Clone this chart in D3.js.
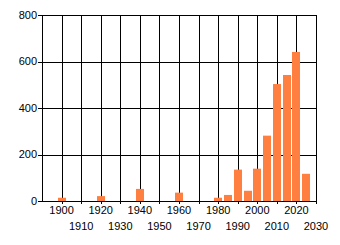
<!DOCTYPE html>
<html>
<head>
<meta charset="utf-8">
<script src="https://cdn.jsdelivr.net/npm/d3@7"></script>
<style>
  body { margin: 0; background: #fff; }
  text { font-family: "Liberation Sans", Arial, sans-serif; font-size: 11px; fill: #000; }
</style>
</head>
<body>
<div id="chart"></div>
<script>
// bar data (5-year bins)
const years = [1900, 1920, 1940, 1960, 1980, 1985, 1990, 1995, 2000, 2005, 2010, 2015, 2020, 2025];
const counts = [14, 21, 52, 36, 14, 26, 135, 44, 139, 281, 503, 542, 641, 117];
const xTicks = [1900, 1910, 1920, 1930, 1940, 1950, 1960, 1970, 1980, 1990, 2000, 2010, 2020, 2030];
const yTicks = [0, 200, 400, 600, 800];

const WIDTH = 340, HEIGHT = 245;
const plotLeft = 42, plotRight = 316, plotTop = 15, plotBottom = 201;

const svg = d3.select('#chart').append('svg')
  .attr('width', WIDTH)
  .attr('height', HEIGHT);

const x = d3.scaleLinear().domain([1890, 2030]).range([plotLeft, plotRight]);
const y = d3.scaleLinear().domain([0, 800]).range([plotBottom, plotTop]);

// grid lines
svg.append('g').selectAll('line')
  .data(xTicks)
  .enter().append('line')
  .attr('x1', d => Math.round(x(d)) + 0.5)
  .attr('x2', d => Math.round(x(d)) + 0.5)
  .attr('y1', plotTop)
  .attr('y2', plotBottom + 3)
  .attr('stroke', '#000');

svg.append('g').selectAll('line')
  .data(yTicks)
  .enter().append('line')
  .attr('x1', plotLeft - 4)
  .attr('x2', plotRight)
  .attr('y1', d => Math.round(y(d)) + 0.5)
  .attr('y2', d => Math.round(y(d)) + 0.5)
  .attr('stroke', '#000');

// left axis line
svg.append('line')
  .attr('x1', plotLeft + 0.5).attr('x2', plotLeft + 0.5)
  .attr('y1', plotTop).attr('y2', plotBottom + 1)
  .attr('stroke', '#000');

// bars
svg.append('g').selectAll('rect')
  .data(years)
  .enter().append('rect')
  .attr('x', d => Math.round(x(d) - 4))
  .attr('width', 8)
  .attr('y', (d, i) => y(counts[i]))
  .attr('height', (d, i) => plotBottom - y(counts[i]))
  .attr('fill', '#ff7f40');

// y labels
svg.append('g').selectAll('text')
  .data(yTicks)
  .enter().append('text')
  .attr('x', plotLeft - 5)
  .attr('y', d => y(d))
  .attr('dy', '0.35em')
  .attr('text-anchor', 'end')
  .text(d => d);

// x labels, staggered on two rows
svg.append('g').selectAll('text')
  .data(xTicks)
  .enter().append('text')
  .attr('x', d => x(d))
  .attr('y', (d, i) => i % 2 === 0 ? 214 : 230)
  .attr('text-anchor', 'middle')
  .text(d => d);
</script>
</body>
</html>
